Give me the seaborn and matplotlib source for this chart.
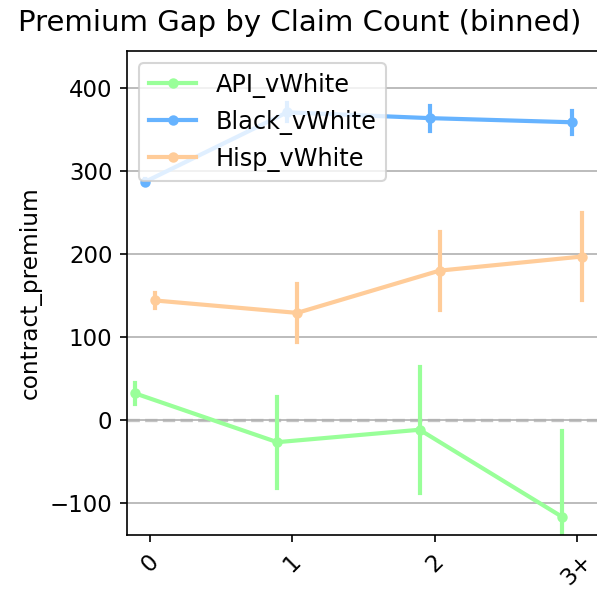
import numpy as np
import pandas as pd
import matplotlib
matplotlib.use("Agg")
import matplotlib.pyplot as plt
import seaborn as sns

categories = ["0", "1", "2", "3+"]
series_names = ["API_vWhite", "Black_vWhite", "Hisp_vWhite"]
api_mean = [32, -27, -12, -117]
api_err = [13, 55, 76, 104]
black_mean = [287, 371, 364, 359]
black_err = [3, 11, 15, 14]
hisp_mean = [144, 129, 180, 197]
hisp_err = [9, 35, 47, 52]
colors = ["#99ff99", "#66b3ff", "#ffcc99"]

means = {"API_vWhite": api_mean, "Black_vWhite": black_mean, "Hisp_vWhite": hisp_mean}
errs = {"API_vWhite": api_err, "Black_vWhite": black_err, "Hisp_vWhite": hisp_err}

rows = []
for s in series_names:
    for c, m, e in zip(categories, means[s], errs[s]):
        rows.append({"claims": c, "group": s, "contract_premium": m - e})
        rows.append({"claims": c, "group": s, "contract_premium": m + e})
df = pd.DataFrame(rows)

fig = plt.figure(figsize=(597 / 150, 592 / 150), dpi=150)
ax = fig.add_axes([127 / 597, (592 - 535) / 592, (604 - 127) / 597, (535 - 51) / 592])

hue_order = series_names + ["_pad"]
palette = dict(zip(series_names, colors))
palette["_pad"] = "#ffffff"
sns.pointplot(data=df, x="claims", y="contract_premium", hue="group",
              order=categories, hue_order=hue_order, palette=palette,
              dodge=0.21, errorbar=("pi", 100), ax=ax,
              linewidth=2.0, markersize=3.5)

ax.axhline(0, color="#c4c4c4", ls="--", lw=1.6, zorder=0.5)
ax.grid(axis="y", color="#b0b0b0", lw=0.8)
ax.set_axisbelow(True)
ax.set_ylim(-139, 445)
ax.set_xlim(-0.16, 3.19)
ax.set_xlabel("")
ax.set_ylabel("contract_premium", fontsize=11.2)
ax.tick_params(axis="both", labelsize=11)
ax.tick_params(axis="x", rotation=45)
fig.text(300 / 597, 1 - 31 / 592, "Premium Gap by Claim Count (binned)",
         ha="center", va="baseline", fontsize=14)

handles, labels = ax.get_legend_handles_labels()
keep = [i for i, l in enumerate(labels) if l in series_names]
ax.legend([handles[i] for i in keep], [labels[i] for i in keep],
          loc="upper left", fontsize=11.5)

fig.savefig("out.png", dpi=150)
